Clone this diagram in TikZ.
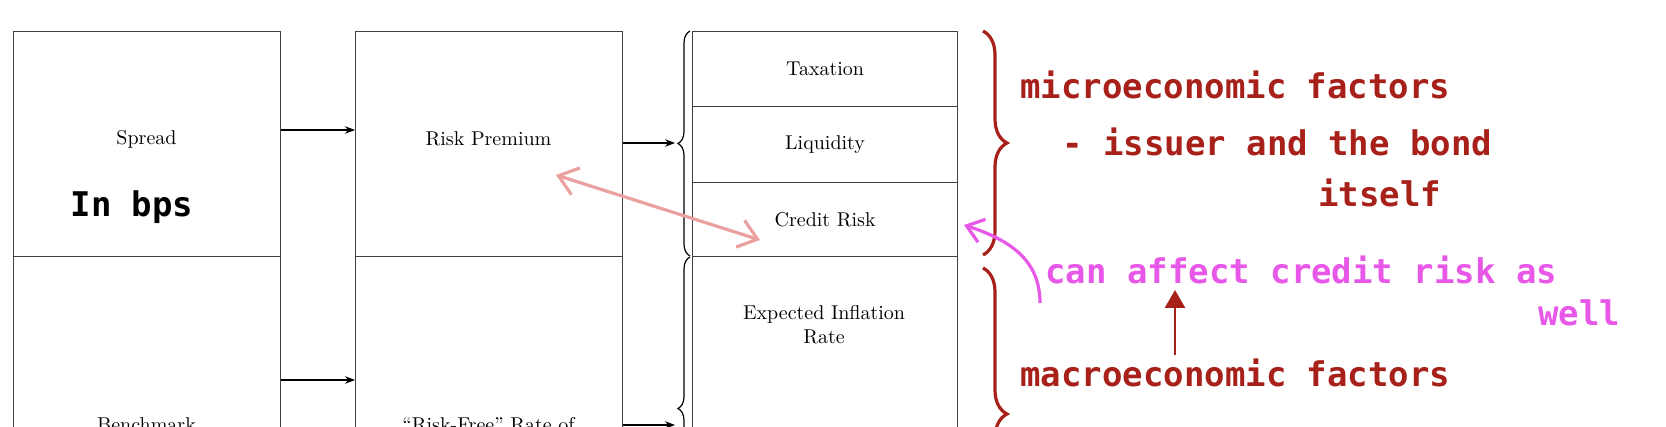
\documentclass[tikz,border=0pt]{standalone}
\usepackage{fontspec}
\usetikzlibrary{arrows.meta,decorations.pathreplacing}
\newfontfamily\hand{DejaVu Sans Mono}
\definecolor{hred}{HTML}{A8201A}
\definecolor{hpink}{HTML}{E858E8}
\definecolor{hsalmon}{HTML}{EBA0A0}
\tikzset{cell/.style={draw=black!75,line width=0.6pt,minimum width=133.5pt,inner sep=0pt},
 arr/.style={-{Stealth[length=5pt]},line width=0.6pt},
 ann/.style={font=\hand\bfseries\fontsize{17}{19}\selectfont,anchor=west,inner sep=0pt}}
\begin{document}
\begin{tikzpicture}[x=0.5pt,y=-0.5pt]
\useasboundingbox (0,0) rectangle (1666,427);
\clip (0,0) rectangle (1666,427);
% column boxes
\node[cell,minimum height=112.5pt,anchor=north west] (spread) at (13,31) {};
\node at (146.5,139) {Spread};
\node[cell,minimum height=112.5pt,anchor=north west] (bench) at (13,256) {};
\node at (146.5,425) {Benchmark};
\node[cell,minimum height=112.5pt,anchor=north west] (rp) at (355,31) {};
\node at (488.5,139) {Risk Premium};
\node[cell,minimum height=112.5pt,anchor=north west] (rf) at (355,256) {};
\node at (488.5,425) {``Risk-Free'' Rate of};
\node[cell,minimum height=37.5pt,minimum width=132.5pt,anchor=north west] (tax) at (692,31) {Taxation};
\node[cell,minimum height=38pt,minimum width=132.5pt,anchor=north west] (liq) at (692,106) {Liquidity};
\node[cell,minimum height=37pt,minimum width=132.5pt,anchor=north west] (cr) at (692,182) {Credit Risk};
\node[cell,minimum height=112.5pt,minimum width=132.5pt,anchor=north west] (inf) at (692,256) {};
\node[align=center,font=\normalsize] at (824,325) {Expected Inflation\\Rate};
\node[font=\hand\bfseries\fontsize{17}{19}\selectfont] at (132,207) {In bps};
% black braces and arrows
\coordinate (b1) at (675,143);
\coordinate (b2) at (675,425);
\draw[line width=0.6pt,decorate,decoration={brace,amplitude=6pt}] (690,256) -- (690,31);
\draw[line width=0.6pt,decorate,decoration={brace,amplitude=6pt}] (690,560) -- (690,257);
\draw[arr] (spread.east |- 0,130) -- (rp.west |- 0,130);
\draw[arr] (bench.east |- 0,380) -- (rf.west |- 0,380);
\draw[arr] (rp.east |- b1) -- (b1);
\draw[arr] (rf.east |- b2) -- (b2);
% annotations
\draw[hsalmon,line width=1.6pt,{Straight Barb[length=9pt,width=14pt]}-{Straight Barb[length=9pt,width=14pt]}] (556,175) -- (760,240);
\draw[hred,line width=1.6pt,decorate,decoration={brace,amplitude=12pt}] (983,31) -- (983,255);
\draw[hred,line width=1.6pt,decorate,decoration={brace,amplitude=12pt}] (983,268) -- (983,560);
\node[ann,text=hred] (mic) at (1020,85) {microeconomic factors};
\node[ann,text=hred] (iss) at (1062,142) {- issuer and the bond};
\node[ann,text=hred] (its) at (1318,193) {itself};
\node[ann,text=hpink] (can) at (1045,270) {can affect credit risk as};
\node[ann,text=hpink] (wel) at (1538,313) {well};
\node[ann,text=hred] (mac) at (1020,373) {macroeconomic factors};
\coordinate (ms) at (1175,355);
\coordinate (me) at (1175,290);
\draw[hred,line width=1.4pt,-{Triangle[length=9pt,width=10pt]}] (ms) -- (me);
\coordinate (ps) at (1040,303);
\coordinate (pe) at (964,225);
\draw[hpink,line width=1.6pt,-{Straight Barb[length=8pt,width=12pt]}] (ps) .. controls (1040,260) and (1010,240) .. (pe);
\end{tikzpicture}
\end{document}
